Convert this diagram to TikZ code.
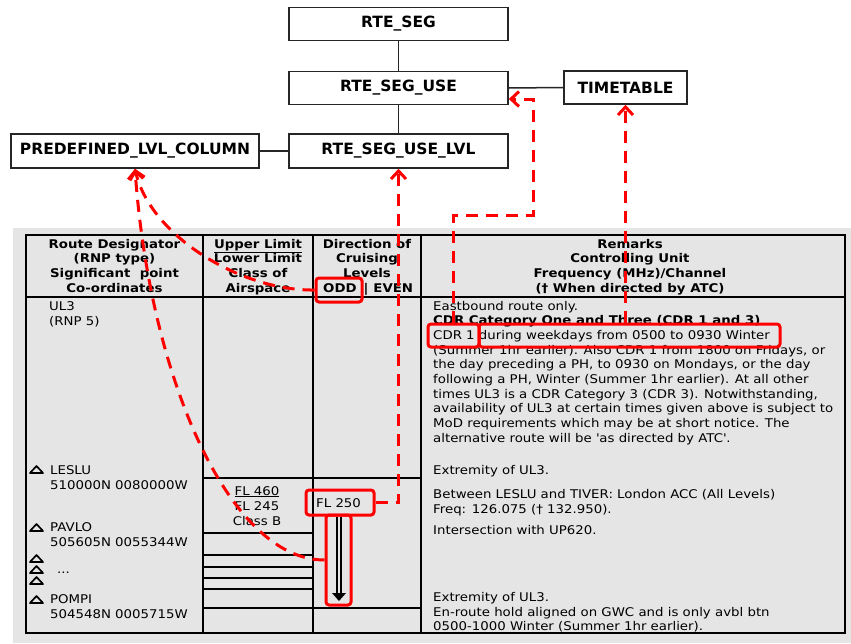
\documentclass[tikz,border=0pt]{standalone}
\usepackage{fontspec}
\setmainfont{DejaVu Sans}
\newfontfamily\tblfont[FakeStretch=1.11]{DejaVu Sans}
\newfontfamily\boxfont{DejaVu Sans}
\usetikzlibrary{arrows.meta}
\definecolor{tblgray}{RGB}{229,229,229}
\newcommand\wpt[2]{\draw[line width=1.7pt, line join=round] (#1-6.5,#2) -- (#1+6.5,#2) -- (#1,#2-7) -- cycle;}
\begin{document}
\begin{tikzpicture}[x=1pt,y=-1pt,
  ebox/.style={draw=black!85, line width=1.6pt, fill=white, minimum height=33pt, inner sep=0pt, font=\boxfont\fontsize{15.5}{18}\selectfont\bfseries},
  link/.style={black!85, line width=1.5pt},
  grid/.style={line width=1.4pt, black},
  tx/.style={inner sep=0pt, font=\tblfont\fontsize{12}{14.7}\selectfont},
  th/.style={inner sep=0pt, font=\tblfont\fontsize{12}{14.7}\selectfont\bfseries},
  redbox/.style={draw=red, line width=3pt, rounded corners=3pt, inner sep=0pt},
  reddash/.style={draw=red, line width=3pt, dash pattern=on 12pt off 8pt},
  redarrow/.style={reddash, -{Straight Barb[length=8pt, width=15pt]}},
]
\fill[white] (0,0) rectangle (851,643);
\useasboundingbox (0,0) rectangle (851,643);

% ---- entity boxes ----
\node[ebox, minimum width=219pt] (seg) at (398.5,24) {RTE\_SEG};
\node[ebox, minimum width=219pt] (use) at (398.5,88) {RTE\_SEG\_USE};
\node[ebox, minimum width=219pt, minimum height=34pt] (usell) at (398.5,151) {RTE\_SEG\_USE\_LVL};
\node[ebox, minimum width=123pt] (time) at (625.5,87.5) {TIMETABLE};
\node[ebox, minimum width=248pt, minimum height=34pt] (pred) at (135,151) {PREDEFINED\_LVL\_COLUMN};
\draw[link] (seg.south) -- (use.north);
\draw[link] (use.south) -- (usell.north);
\draw[link] (use.east) -- (time.west);
\draw[link] (pred.east) -- (usell.west);

% ---- table ----
\fill[tblgray] (13,228) rectangle (851,643);
\draw[grid] (26,235) rectangle (845,633);
\draw[grid] (203,235) -- (203,633);
\draw[grid] (313,235) -- (313,633);
\draw[grid] (421,235) -- (421,633);
\draw[grid] (26,297) -- (845,297);
\draw[grid] (203,478) -- (421,478);
\foreach \yy in {533,555,567,578,589} \draw[grid] (203,\yy) -- (313,\yy);
\draw[grid] (203,608) -- (421,608);

% headers
\foreach \t [count=\i from 0] in {{Route Designator},{(RNP type)},{Significant\ \ point},{Co-ordinates}}
  \node[th, anchor=base] (ha\i) at (114.5,248+14.7*\i) {\t};
\foreach \t [count=\i from 0] in {{\underline{Upper Limit}},{Lower Limit},{Class of},{Airspace}}
  \node[th, anchor=base] (hb\i) at (258,248+14.7*\i) {\t};
\foreach \t [count=\i from 0] in {{Direction of},{Cruising},{Levels}}
  \node[th, anchor=base] (hc\i) at (367,248+14.7*\i) {\t};
\node[th, anchor=base west] (hc3) at (323,292.1) {ODD\hskip 7pt|\hskip 5pt EVEN};
\foreach \t [count=\i from 0] in {{Remarks},{Controlling Unit},{Frequency (MHz)/Channel},{(\dag\ When directed by ATC)}}
  \node[th, anchor=base] (hd\i) at (630,248+14.7*\i) {\t};

% column 1
\node[tx, anchor=base west] (ul3) at (49,310) {UL3};
\node[tx, anchor=base west] (rnp) at (49,325) {(RNP 5)};
\wpt{36.5}{473}
\node[tx, anchor=base west] (leslu) at (50,474) {LESLU};
\node[tx, anchor=base west] (lesluc) at (50,489) {510000N 0080000W};
\wpt{36.5}{531}
\node[tx, anchor=base west] (pavlo) at (50,531) {PAVLO};
\node[tx, anchor=base west] (pavloc) at (50,546) {505605N 0055344W};
\wpt{36.5}{562}
\wpt{36.5}{573}
\wpt{36.5}{584}
\node[tx, anchor=base west] (dots) at (57,573) {...};
\wpt{36.5}{603}
\node[tx, anchor=base west] (pompi) at (50,603) {POMPI};
\node[tx, anchor=base west] (pompic) at (50,618) {504548N 0005715W};

% column 2 & 3
\node[tx, anchor=base] (fl460) at (257,495) {\underline{FL 460}};
\node[tx, anchor=base] (fl245) at (257,510) {FL 245};
\node[tx, anchor=base] (clb) at (257,525) {Class B};
\node[tx, anchor=base west] (fl250) at (316,507) {FL 250};

% column 4
\foreach \t [count=\i from 0] in {
  {Eastbound route only.},
  {\bfseries CDR Category One and Three (CDR 1 and 3)},
  {CDR 1 during weekdays from 0500 to 0930 Winter},
  {(Summer 1hr earlier). Also CDR 1 from 1800 on Fridays, or},
  {the day preceding a PH, to 0930 on Mondays, or the day},
  {following a PH, Winter (Summer 1hr earlier). At all other},
  {times UL3 is a CDR Category 3 (CDR 3). Notwithstanding,},
  {availability of UL3 at certain times given above is subject to},
  {MoD requirements which may be at short notice. The},
  {alternative route will be \textquotesingle as directed by ATC\textquotesingle.}}
  \node[tx, anchor=base west] (rm\i) at (433,310+14.7*\i) {\t};
\node[tx, anchor=base west] (ext1) at (433,474) {Extremity of UL3.};
\node[tx, anchor=base west] (betw) at (433,498) {Between LESLU and TIVER: London ACC (All Levels)};
\node[tx, anchor=base west] (freq) at (433,513) {Freq: 126.075 (\dag\ 132.950).};
\node[tx, anchor=base west] (inter) at (433,534) {Intersection with UP620.};
\node[tx, anchor=base west] (ext2) at (433,601) {Extremity of UL3.};
\node[tx, anchor=base west] (hold) at (433,616) {En-route hold aligned on GWC and is only avbl btn};
\node[tx, anchor=base west] (hold2) at (433,630.5) {0500-1000 Winter (Summer 1hr earlier).};

% level arrow
\draw[line width=1.2pt] (337,517) -- (337,594);
\draw[line width=1.2pt] (341,517) -- (341,594);
\fill (332,593) -- (346,593) -- (339,601) -- cycle;

% ---- red highlights ----
\node[redbox, minimum width=46pt, minimum height=24pt] (odd) at (339,290) {};
\node[redbox, minimum width=51pt, minimum height=23pt] (cdr) at (453.5,335.5) {};
\node[redbox, minimum width=301pt, minimum height=23pt] (during) at (629.5,335.5) {};
\node[redbox, minimum width=68pt, minimum height=25pt] (fl) at (340,502.5) {};
\node[redbox, minimum width=25pt, minimum height=90pt] (arrbox) at (338.5,560) {};

\coordinate (dk) at (533,215);
\draw[redarrow] (odd.west) .. controls (240,291) and (150,235) .. (pred.south);
\draw[redarrow] (arrbox.west) .. controls (230,560) and (150,380) .. (pred.south);
\draw[redarrow] (fl.east) -| (usell.south);
\draw[redarrow] (cdr.north) |- (dk) |- ([yshift=-11pt]use.east);
\draw[redarrow] (during.north -| time.south) -- (time.south);
\end{tikzpicture}
\end{document}
